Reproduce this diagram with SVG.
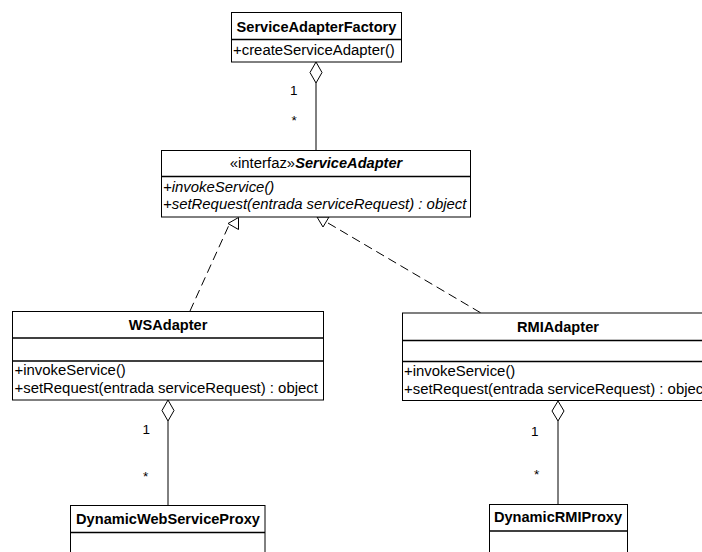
<svg xmlns="http://www.w3.org/2000/svg" width="702" height="552" viewBox="0 0 702 552">
<style>
.box{fill:#fff;stroke:#000;stroke-width:1}
.div{stroke:#000;stroke-width:1.3}
text{font-family:"Liberation Sans",Arial,sans-serif;font-size:14.9px;fill:#000}
.t{font-weight:bold;text-anchor:middle;font-size:14.6px}
.it{font-style:italic}
.m{font-size:13.5px}
.ln{stroke:#000;stroke-width:1;fill:none}
.dash{stroke:#000;stroke-width:1;fill:none;stroke-dasharray:9,5}
.dia{fill:#fff;stroke:#000;stroke-width:1}
</style>
<rect width="702" height="552" fill="#fff"/>
<g id="connectors">
  <line class="ln" x1="316" y1="83" x2="316" y2="150.5"/>
  <polygon class="dia" points="316,62 322,72.5 316,83 310,72.5"/>
  <text class="m" x="290" y="95">1</text>
  <text class="m" x="291.5" y="125">*</text>
  <line class="dash" x1="190" y1="311" x2="229" y2="225"/>
  <polygon class="dia" points="238.5,217.5 228,223.5 238.5,229.5"/>
  <line class="dash" x1="328" y1="223" x2="481" y2="313"/>
  <polygon class="dia" points="317,217 329,217 323,227"/>
  <line class="ln" x1="168" y1="421" x2="168" y2="505.5"/>
  <polygon class="dia" points="168,400 174,410.5 168,421 162,410.5"/>
  <text class="m" x="142.5" y="433.5">1</text>
  <text class="m" x="143" y="481">*</text>
  <line class="ln" x1="558" y1="421" x2="558" y2="504.5"/>
  <polygon class="dia" points="558,401 564,411 558,421 552,411"/>
  <text class="m" x="531" y="436">1</text>
  <text class="m" x="534" y="478.5">*</text>
</g>
<g id="ServiceAdapterFactory">
  <rect class="box" x="231.5" y="12.5" width="170" height="49.5"/>
  <line class="div" x1="231.5" y1="39.5" x2="401.5" y2="39.5"/>
  <text class="t" x="316.5" y="31.5">ServiceAdapterFactory</text>
  <text x="233" y="55">+createServiceAdapter()</text>
</g>
<g id="ServiceAdapter">
  <rect class="box" x="161.5" y="150.5" width="309" height="66.5"/>
  <line class="div" x1="161.5" y1="176.5" x2="470.5" y2="176.5"/>
  <text x="316" y="167.5" text-anchor="middle"><tspan>«interfaz»</tspan><tspan font-weight="bold" font-style="italic" font-size="14.6px">ServiceAdapter</tspan></text>
  <text class="it" x="163" y="191.5">+invokeService()</text>
  <text class="it" x="163" y="208.5">+setRequest(entrada serviceRequest) : object</text>
</g>
<g id="WSAdapter">
  <rect class="box" x="12.5" y="311.5" width="311" height="88.5"/>
  <line class="div" x1="12.5" y1="338" x2="323.5" y2="338"/>
  <line class="div" x1="12.5" y1="361" x2="323.5" y2="361"/>
  <text class="t" x="168" y="329.5">WSAdapter</text>
  <text x="14.5" y="375">+invokeService()</text>
  <text x="14.5" y="393">+setRequest(entrada serviceRequest) : object</text>
</g>
<g id="RMIAdapter">
  <rect class="box" x="402.5" y="313" width="311" height="87.5"/>
  <line class="div" x1="402.5" y1="340.5" x2="713.5" y2="340.5"/>
  <line class="div" x1="402.5" y1="361.5" x2="713.5" y2="361.5"/>
  <text class="t" x="558" y="332">RMIAdapter</text>
  <text x="404" y="376">+invokeService()</text>
  <text x="404" y="393.5">+setRequest(entrada serviceRequest) : object</text>
</g>
<g id="DynamicWebServiceProxy">
  <rect class="box" x="70.5" y="505.5" width="194.5" height="60"/>
  <line class="div" x1="70.5" y1="532.5" x2="265" y2="532.5"/>
  <text class="t" x="168" y="523.5">DynamicWebServiceProxy</text>
</g>
<g id="DynamicRMIProxy">
  <rect class="box" x="489.5" y="504.5" width="138" height="60"/>
  <line class="div" x1="489.5" y1="531" x2="627.5" y2="531"/>
  <text class="t" x="558" y="522">DynamicRMIProxy</text>
</g>
</svg>
